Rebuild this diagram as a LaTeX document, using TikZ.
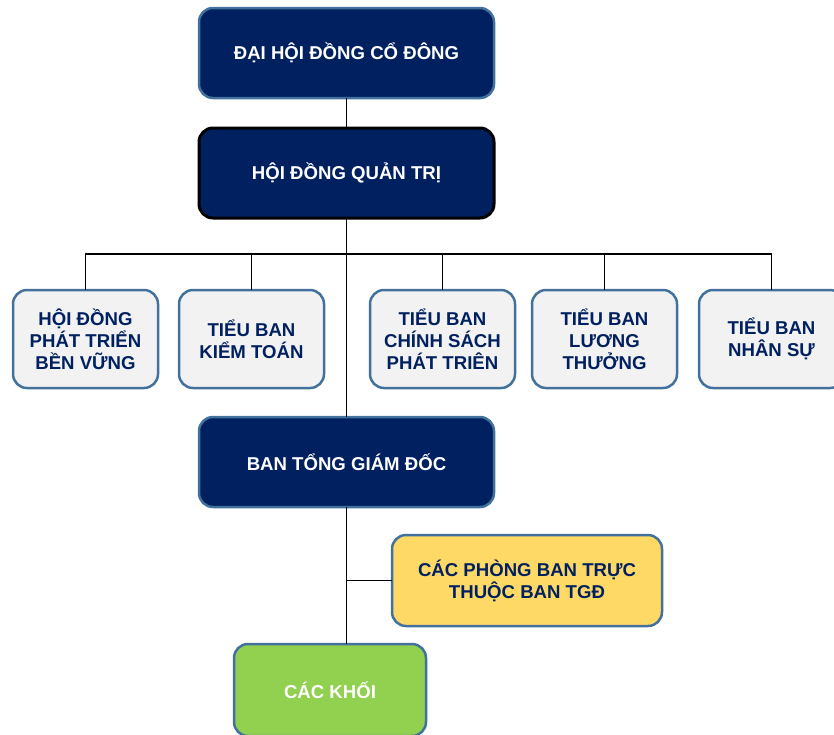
\documentclass[tikz,border=0pt]{standalone}
\usepackage{fontspec}
\setmainfont{Liberation Sans}
\usepackage{xcolor}
\usepackage{tikz}
\usetikzlibrary{positioning}
\definecolor{navy}{HTML}{002060}
\definecolor{edgeblue}{HTML}{41719C}
\definecolor{boxgray}{HTML}{F2F2F2}
\definecolor{ylw}{HTML}{FFD966}
\definecolor{grn}{HTML}{92D050}

\begin{document}
\begin{tikzpicture}[
        x=1pt, y=1pt,
        node distance=30pt and 21pt,
        every node/.style={font=\fontsize{18.6}{22}\selectfont\bfseries, align=center, outer sep=0pt},
        mainbox/.style={draw=edgeblue, line width=2.5pt, rounded corners=14pt, fill=navy, text=white, minimum width=295pt, minimum height=90pt},
        subbox/.style={draw=edgeblue, line width=2.5pt, rounded corners=14pt, fill=boxgray, text=navy, minimum width=145pt, minimum height=98pt},
        link/.style={line width=1.2pt}
    ]
        \useasboundingbox (0,0) rectangle (834,-734);

        \node[mainbox] (dhcd) at (346.5,-53) {ĐẠI HỘI ĐỒNG CỔ ĐÔNG};
        \node[mainbox, draw=black, line width=3pt, below=of dhcd] (hdqt) {HỘI ĐỒNG QUẢN TRỊ};
        \coordinate[below=36pt of hdqt] (bus);

        \node[subbox] (hdpt) at (85.5,-339) {HỘI ĐỒNG\\PHÁT TRIỂN\\BỀN VỮNG};
        \node[subbox, right=21pt of hdpt] (kt) {TIỂU BAN\\KIỂM TOÁN};
        \node[subbox, right=46pt of kt] (cs) {TIỂU BAN\\CHÍNH SÁCH\\PHÁT TRIÊN};
        \node[subbox, right=17pt of cs] (lt) {TIỂU BAN\\LƯƠNG\\THƯỞNG};
        \node[subbox, right=22pt of lt] (ns) {TIỂU BAN\\NHÂN SỰ};

        \node[mainbox, below=199pt of hdqt] (btgd) {BAN TỔNG GIÁM ĐỐC};
        \node[subbox, fill=ylw, minimum width=270pt, minimum height=91pt] (pb) at (527,-580.5) {CÁC PHÒNG BAN TRỰC\\THUỘC BAN TGĐ};
        \node[subbox, fill=grn, text=white, minimum width=192pt, minimum height=92pt] (khoi) at (330,-690) {CÁC KHỐI};

        \draw[link] (dhcd) -- (hdqt);
        \draw[link] (hdqt.south) -- (btgd.north);
        \draw[link] (hdpt.north) |- (bus) -| (ns.north);
        \foreach \n in {kt,cs,lt}
            \draw[link] (\n.north) -- (\n.north |- bus);
        \draw[link] (btgd.south) -- (btgd.south |- khoi.north);
        \draw[link] (pb.west) -- (pb.west -| btgd.south);
    \end{tikzpicture}
\end{document}
